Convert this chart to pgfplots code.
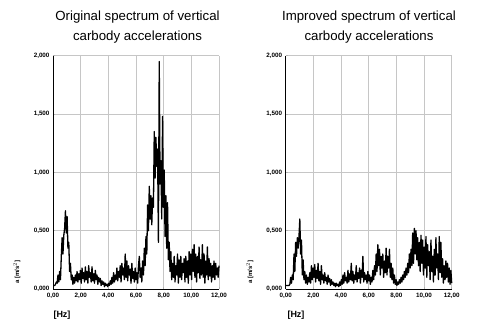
\documentclass[border=0pt]{standalone}
\usepackage{fontspec}
\setmainfont{Liberation Sans}
\usepackage{pgfplots}
\pgfplotsset{compat=1.18}
\begin{document}
\begin{tikzpicture}
\useasboundingbox (0bp,0bp) rectangle (482bp,322bp);
\pgfplotsset{myax/.style={
  scale only axis, width=166bp, height=233.3bp,
  xmin=0, xmax=12, ymin=0, ymax=2,
  xtick={0,2,4,6,8,10,12}, ytick={0,0.5,1,1.5,2},
  xticklabels={{0,00},{2,00},{4,00},{6,00},{8,00},{10,00},{12,00}},
  yticklabels={{0,000},{0,500},{1,000},{1,500},{2,000}},
  grid=major, major grid style={gray!45, line width=0.8pt},
  axis x line*=bottom, axis y line*=left,
  axis line style={black, line width=0.9pt, -},
  tick style={gray!60, line width=0.6pt}, major tick length=2bp,
  tick label style={font=\fontsize{6.3}{7}\selectfont\bfseries},
  xticklabel style={yshift=-1bp},
  anchor=origin,
  clip=false,
}}
\begin{axis}[myax, at={(53bp,33bp)}]
\addplot[black, line width=1.3pt, line join=round] coordinates {
(0.00,0.03)(0.06,0.03)(0.12,0.03)(0.18,0.04)(0.24,0.06)(0.30,0.05)
(0.36,0.12)(0.42,0.06)(0.48,0.15)(0.54,0.08)
(0.60,0.28)(0.66,0.44)(0.72,0.30)(0.78,0.46)(0.84,0.52)(0.90,0.67)(0.96,0.48)(1.02,0.62)(1.08,0.35)(1.14,0.40)
(1.20,0.15)(1.26,0.22)(1.32,0.08)(1.38,0.12)(1.44,0.04)(1.50,0.10)(1.56,0.05)(1.62,0.12)(1.68,0.07)(1.74,0.15)
(1.80,0.06)(1.86,0.13)(1.92,0.08)(1.98,0.16)(2.04,0.05)(2.10,0.18)(2.16,0.09)(2.22,0.14)(2.28,0.06)(2.34,0.19)
(2.40,0.08)(2.46,0.15)(2.52,0.05)(2.58,0.20)(2.64,0.10)(2.70,0.14)(2.76,0.06)(2.82,0.19)(2.88,0.07)(2.94,0.13)
(3.00,0.05)(3.06,0.16)(3.12,0.08)(3.18,0.12)(3.24,0.04)(3.30,0.10)(3.36,0.06)(3.42,0.09)(3.48,0.03)(3.54,0.07)
(3.60,0.04)(3.66,0.06)(3.72,0.02)(3.78,0.05)(3.84,0.03)(3.90,0.04)(3.96,0.02)(4.02,0.05)(4.08,0.03)(4.14,0.07)
(4.20,0.04)(4.26,0.10)(4.32,0.05)(4.38,0.14)(4.44,0.06)(4.50,0.12)(4.56,0.08)(4.62,0.18)(4.68,0.07)(4.74,0.15)
(4.80,0.10)(4.86,0.20)(4.92,0.06)(4.98,0.22)(5.04,0.12)(5.10,0.18)(5.16,0.08)(5.22,0.30)(5.28,0.10)(5.34,0.24)
(5.40,0.07)(5.46,0.20)(5.52,0.12)(5.58,0.17)(5.64,0.05)(5.70,0.22)(5.76,0.09)(5.82,0.15)(5.88,0.06)(5.94,0.18)
(6.00,0.08)(6.06,0.14)(6.12,0.05)(6.18,0.20)(6.24,0.28)(6.30,0.10)(6.36,0.18)(6.42,0.06)(6.48,0.24)(6.54,0.12)
(6.60,0.35)(6.66,0.20)(6.72,0.45)(6.78,0.30)(6.84,0.72)(6.90,0.50)(6.96,0.88)(7.02,0.60)(7.08,0.80)(7.14,0.55)
(7.20,0.78)(7.26,0.70)(7.32,1.35)(7.38,0.95)(7.44,1.30)(7.50,1.05)(7.56,1.20)(7.62,0.40)(7.68,1.95)(7.74,0.90)
(7.80,1.10)(7.86,0.60)(7.92,1.48)(7.98,0.70)(8.04,1.02)(8.10,0.45)(8.16,0.80)(8.22,0.35)(8.28,0.74)(8.34,0.25)
(8.40,0.40)(8.46,0.15)(8.52,0.32)(8.58,0.08)(8.64,0.22)(8.70,0.10)(8.76,0.28)(8.82,0.06)(8.88,0.20)(8.94,0.12)
(9.00,0.30)(9.06,0.05)(9.12,0.25)(9.18,0.10)(9.24,0.28)(9.30,0.08)(9.36,0.22)(9.42,0.14)(9.48,0.26)(9.54,0.06)
(9.60,0.28)(9.66,0.10)(9.72,0.24)(9.78,0.05)(9.84,0.32)(9.90,0.12)(9.96,0.30)(10.02,0.08)(10.08,0.34)(10.14,0.15)
(10.20,0.38)(10.26,0.10)(10.32,0.30)(10.38,0.06)(10.44,0.28)(10.50,0.14)(10.56,0.36)(10.62,0.09)(10.68,0.25)(10.74,0.12)
(10.80,0.38)(10.86,0.10)(10.92,0.30)(10.98,0.05)(11.04,0.24)(11.10,0.12)(11.16,0.36)(11.22,0.08)(11.28,0.26)(11.34,0.11)
(11.40,0.22)(11.46,0.06)(11.52,0.20)(11.58,0.10)(11.64,0.24)(11.70,0.08)(11.76,0.22)(11.82,0.12)(11.88,0.18)(11.94,0.10)(12.00,0.20)
};
\end{axis}
\begin{axis}[myax, at={(285.7bp,33bp)}]
\addplot[black, line width=1.3pt, line join=round] coordinates {
(0.00,0.03)(0.06,0.03)(0.12,0.03)(0.18,0.03)(0.24,0.03)(0.30,0.04)
(0.36,0.10)(0.42,0.05)(0.48,0.12)(0.54,0.08)
(0.60,0.30)(0.66,0.15)(0.72,0.40)(0.78,0.28)(0.84,0.44)(0.90,0.35)(0.96,0.45)(1.02,0.60)(1.08,0.30)(1.14,0.42)
(1.20,0.12)(1.26,0.25)(1.32,0.08)(1.38,0.15)(1.44,0.05)(1.50,0.12)(1.56,0.04)(1.62,0.10)(1.68,0.06)(1.74,0.14)
(1.80,0.05)(1.86,0.20)(1.92,0.08)(1.98,0.18)(2.04,0.10)(2.10,0.21)(2.16,0.06)(2.22,0.16)(2.28,0.09)(2.34,0.22)
(2.40,0.07)(2.46,0.15)(2.52,0.04)(2.58,0.20)(2.64,0.08)(2.70,0.12)(2.76,0.05)(2.82,0.14)(2.88,0.07)(2.94,0.10)
(3.00,0.04)(3.06,0.12)(3.12,0.06)(3.18,0.09)(3.24,0.03)(3.30,0.08)(3.36,0.04)(3.42,0.06)(3.48,0.03)(3.54,0.05)
(3.60,0.02)(3.66,0.05)(3.72,0.03)(3.78,0.04)(3.84,0.02)(3.90,0.06)(3.96,0.03)(4.02,0.08)(4.08,0.04)(4.14,0.12)
(4.20,0.05)(4.26,0.14)(4.32,0.07)(4.38,0.10)(4.44,0.05)(4.50,0.16)(4.56,0.06)(4.62,0.13)(4.68,0.08)(4.74,0.22)
(4.80,0.07)(4.86,0.15)(4.92,0.05)(4.98,0.12)(5.04,0.08)(5.10,0.20)(5.16,0.06)(5.22,0.14)(5.28,0.09)(5.34,0.18)
(5.40,0.05)(5.46,0.16)(5.52,0.10)(5.58,0.28)(5.64,0.06)(5.70,0.14)(5.76,0.08)(5.82,0.12)(5.88,0.05)(5.94,0.15)
(6.00,0.07)(6.06,0.12)(6.12,0.04)(6.18,0.10)(6.24,0.06)(6.30,0.16)(6.36,0.08)(6.42,0.20)(6.48,0.12)(6.54,0.30)
(6.60,0.15)(6.66,0.38)(6.72,0.20)(6.78,0.34)(6.84,0.12)(6.90,0.28)(6.96,0.18)(7.02,0.30)(7.08,0.10)(7.14,0.24)
(7.20,0.14)(7.26,0.35)(7.32,0.12)(7.38,0.28)(7.44,0.18)(7.50,0.34)(7.56,0.10)(7.62,0.22)(7.68,0.08)(7.74,0.18)
(7.80,0.05)(7.86,0.12)(7.92,0.04)(7.98,0.08)(8.04,0.03)(8.10,0.06)(8.16,0.04)(8.22,0.08)(8.28,0.05)(8.34,0.10)
(8.40,0.06)(8.46,0.12)(8.52,0.08)(8.58,0.15)(8.64,0.10)(8.70,0.18)(8.76,0.12)(8.82,0.22)(8.88,0.14)(8.94,0.30)
(9.00,0.18)(9.06,0.34)(9.12,0.20)(9.18,0.48)(9.24,0.22)(9.30,0.52)(9.36,0.30)(9.42,0.50)(9.48,0.25)(9.54,0.44)
(9.60,0.20)(9.66,0.40)(9.72,0.15)(9.78,0.46)(9.84,0.22)(9.90,0.42)(9.96,0.12)(10.02,0.36)(10.08,0.18)(10.14,0.45)
(10.20,0.10)(10.26,0.38)(10.32,0.20)(10.38,0.32)(10.44,0.08)(10.50,0.42)(10.56,0.15)(10.62,0.28)(10.68,0.06)(10.74,0.34)
(10.80,0.12)(10.86,0.44)(10.92,0.18)(10.98,0.30)(11.04,0.08)(11.10,0.45)(11.16,0.14)(11.22,0.40)(11.28,0.10)(11.34,0.26)
(11.40,0.05)(11.46,0.20)(11.52,0.08)(11.58,0.24)(11.64,0.10)(11.70,0.22)(11.76,0.06)(11.82,0.18)(11.88,0.04)(11.94,0.16)(12.00,0.05)
};
\end{axis}
\node[align=center, font=\fontsize{13.3}{20}\selectfont] at (137.5bp,295bp) {Original spectrum of vertical\\carbody accelerations};
\node[align=center, font=\fontsize{13.3}{20}\selectfont] at (369bp,295bp) {Improved spectrum of vertical\\carbody accelerations};
\node[font=\fontsize{9}{10}\selectfont\bfseries] at (62bp,7bp) {[Hz]};
\node[font=\fontsize{9}{10}\selectfont\bfseries] at (296bp,7bp) {[Hz]};
\node[rotate=90, font=\fontsize{6}{7}\selectfont\bfseries] at (17bp,50bp) {a [m/s$^{2}$]};
\node[rotate=90, font=\fontsize{6}{7}\selectfont\bfseries] at (250bp,50bp) {a [m/s$^{2}$]};
\end{tikzpicture}
\end{document}
